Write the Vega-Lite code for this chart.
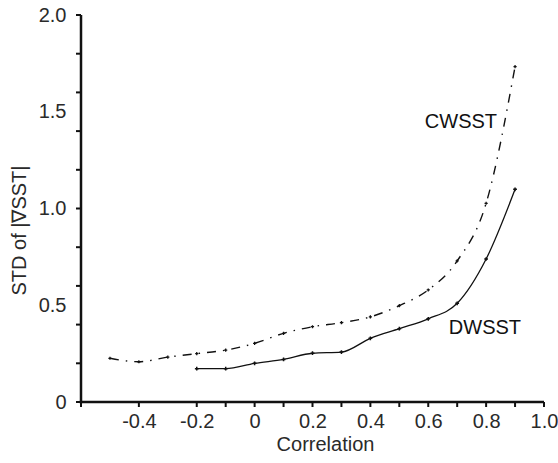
{
  "$schema": "https://vega.github.io/schema/vega-lite/v6.json",
  "width": 463,
  "height": 387,
  "autosize": "none",
  "padding": {"left": 81, "top": 15, "right": 14, "bottom": 61},
  "background": "white",
  "config": {
    "view": {"stroke": null},
    "font": "Liberation Sans"
  },
  "datasets": {
    "lines": [
      {"series": "DWSST", "x": -0.2, "y": 0.172},
      {"series": "DWSST", "x": -0.1, "y": 0.172},
      {"series": "DWSST", "x": 0.0, "y": 0.2},
      {"series": "DWSST", "x": 0.1, "y": 0.22},
      {"series": "DWSST", "x": 0.2, "y": 0.252},
      {"series": "DWSST", "x": 0.3, "y": 0.258},
      {"series": "DWSST", "x": 0.4, "y": 0.329},
      {"series": "DWSST", "x": 0.5, "y": 0.379},
      {"series": "DWSST", "x": 0.6, "y": 0.43},
      {"series": "DWSST", "x": 0.7, "y": 0.51},
      {"series": "DWSST", "x": 0.8, "y": 0.739},
      {"series": "DWSST", "x": 0.9, "y": 1.099},
      {"series": "CWSST", "x": -0.5, "y": 0.226},
      {"series": "CWSST", "x": -0.4, "y": 0.208},
      {"series": "CWSST", "x": -0.3, "y": 0.232},
      {"series": "CWSST", "x": -0.2, "y": 0.25},
      {"series": "CWSST", "x": -0.1, "y": 0.268},
      {"series": "CWSST", "x": 0.0, "y": 0.303},
      {"series": "CWSST", "x": 0.1, "y": 0.355},
      {"series": "CWSST", "x": 0.2, "y": 0.389},
      {"series": "CWSST", "x": 0.3, "y": 0.41},
      {"series": "CWSST", "x": 0.4, "y": 0.44},
      {"series": "CWSST", "x": 0.5, "y": 0.498},
      {"series": "CWSST", "x": 0.6, "y": 0.579},
      {"series": "CWSST", "x": 0.7, "y": 0.729},
      {"series": "CWSST", "x": 0.8, "y": 1.027},
      {"series": "CWSST", "x": 0.9, "y": 1.733}
    ],
    "labels": [
      {"label": "CWSST", "x": 0.713, "y": 1.447},
      {"label": "DWSST", "x": 0.796, "y": 0.382}
    ],
    "xticks": [
      {"v": -0.6}, {"v": -0.4}, {"v": -0.2}, {"v": -0.1}, {"v": 0.0}, {"v": 0.1}, {"v": 0.2}, {"v": 0.3},
      {"v": 0.4}, {"v": 0.5}, {"v": 0.6}, {"v": 0.7}, {"v": 0.8}, {"v": 0.9}, {"v": 1.0}
    ],
    "yticks": [
      {"v": 0.0}, {"v": 0.2}, {"v": 0.4}, {"v": 0.6}, {"v": 0.8}, {"v": 1.0},
      {"v": 1.2}, {"v": 1.4}, {"v": 1.6}, {"v": 1.8}, {"v": 2.0}
    ],
    "frame": [
      {"x0": -0.6, "x1": 1.0, "y0": 0, "y1": 2.0}
    ]
  },
  "layer": [
    {
      "data": {"name": "lines"},
      "transform": [{"filter": "datum.series == 'DWSST'"}],
      "mark": {"type": "line", "color": "#111111", "strokeWidth": 1.3, "interpolate": "monotone", "point": {"shape": "cross", "size": 14, "color": "#111111", "filled": true}},
      "encoding": {
        "x": {
          "field": "x", "type": "quantitative",
          "scale": {"domain": [-0.6, 1.0], "nice": false, "zero": false},
          "axis": {
            "title": "Correlation",
            "values": [-0.4, -0.2, 0, 0.2, 0.4, 0.6, 0.8, 1.0],
            "labelExpr": "abs(datum.value) < 0.001 ? '0' : replace(format(datum.value, '.1f'), '−', '-')",
            "grid": false,
            "domain": false,
            "ticks": true,
            "tickOpacity": 0,
            "tickSize": 5,
            "labelOverlap": false,
            "labelBound": false,
            "labelFlush": false,
            "labelFont": "Liberation Sans",
            "labelFontSize": 20,
            "labelColor": "#2a2a2a",
            "titleFont": "Liberation Sans",
            "titleFontSize": 20,
            "titleFontWeight": "normal",
            "titleColor": "#2a2a2a",
            "labelPadding": 4,
            "titlePadding": 3,
            "titleX": 244
          }
        },
        "y": {
          "field": "y", "type": "quantitative",
          "scale": {"domain": [0, 2], "nice": false, "zero": true},
          "axis": {
            "title": "STD of |∇SST|",
            "values": [0, 0.5, 1.0, 1.5, 2.0],
            "labelExpr": "datum.value == 0 ? '0' : format(datum.value, '.1f')",
            "grid": false,
            "domain": false,
            "ticks": true,
            "tickOpacity": 0,
            "tickSize": 5,
            "labelOverlap": false,
            "labelBound": false,
            "labelFlush": false,
            "labelFont": "Liberation Sans",
            "labelFontSize": 20,
            "labelColor": "#2a2a2a",
            "titleFont": "Liberation Sans",
            "titleFontSize": 20,
            "titleFontWeight": "normal",
            "titleColor": "#2a2a2a",
            "labelPadding": 10,
            "titlePadding": 9,
            "titleY": 215
          }
        }
      }
    },
    {
      "data": {"name": "lines"},
      "transform": [{"filter": "datum.series == 'CWSST'"}],
      "mark": {"type": "line", "color": "#111111", "strokeWidth": 1.4, "strokeDash": [9, 7, 1.5, 7], "interpolate": "monotone", "point": {"shape": "cross", "size": 10, "color": "#111111", "filled": true}},
      "encoding": {
        "x": {"field": "x", "type": "quantitative"},
        "y": {"field": "y", "type": "quantitative"}
      }
    },
    {
      "data": {"name": "labels"},
      "mark": {"type": "text", "font": "Liberation Sans", "fontSize": 20, "color": "#111111"},
      "encoding": {
        "x": {"field": "x", "type": "quantitative"},
        "y": {"field": "y", "type": "quantitative"},
        "text": {"field": "label"}
      }
    },
    {
      "data": {"name": "frame"},
      "mark": {"type": "rect", "color": "#111111", "xOffset": -1.25, "yOffset": -1.25, "y2Offset": 1.25},
      "encoding": {
        "x": {"field": "x0", "type": "quantitative"},
        "x2": {"field": "x1"},
        "y": {"field": "y0", "type": "quantitative"},
        "y2": {"field": "y0"}
      }
    },
    {
      "data": {"name": "frame"},
      "mark": {"type": "rect", "color": "#111111", "xOffset": -1.25, "x2Offset": 1.25, "yOffset": 1.25},
      "encoding": {
        "x": {"field": "x0", "type": "quantitative"},
        "x2": {"field": "x0"},
        "y": {"field": "y0", "type": "quantitative"},
        "y2": {"field": "y1"}
      }
    },
    {
      "data": {"name": "xticks"},
      "mark": {"type": "rect", "color": "#111111", "xOffset": -1, "x2Offset": 1, "y2Offset": 5},
      "encoding": {
        "x": {"field": "v", "type": "quantitative"},
        "x2": {"field": "v"},
        "y": {"datum": 0, "type": "quantitative"},
        "y2": {"datum": 0}
      }
    },
    {
      "data": {"name": "yticks"},
      "mark": {"type": "rect", "color": "#111111", "yOffset": -1, "y2Offset": 1, "xOffset": -5},
      "encoding": {
        "y": {"field": "v", "type": "quantitative"},
        "y2": {"field": "v"},
        "x": {"datum": -0.6, "type": "quantitative"},
        "x2": {"datum": -0.6}
      }
    }
  ]
}
